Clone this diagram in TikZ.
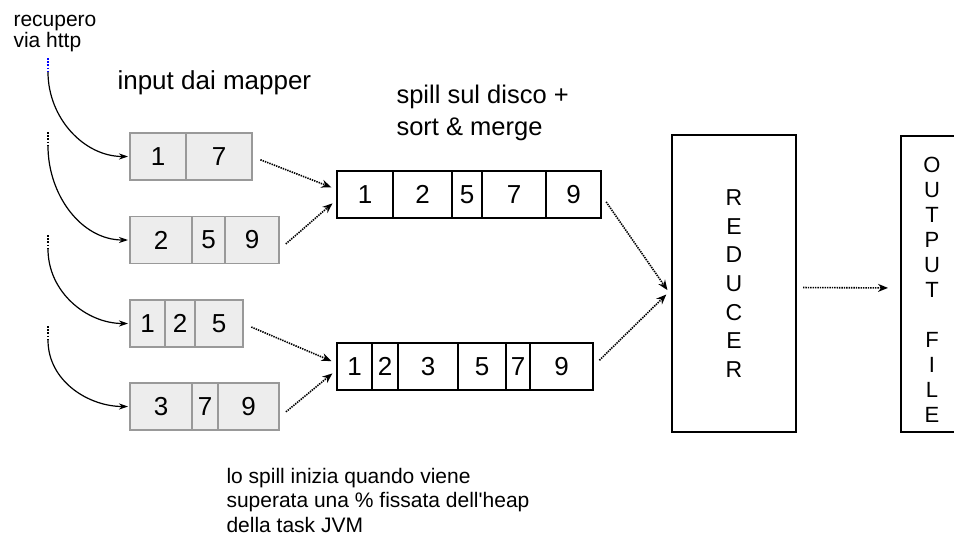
\documentclass[tikz,border=0pt]{standalone}
\usepackage{fontspec}
\setmainfont{Liberation Sans}
\usetikzlibrary{arrows.meta, positioning}
\tikzstyle{feed} = [line width=1.2pt, -{Stealth[length=9pt, width=6pt]}, shorten >=2pt]
\tikzstyle{spill} = [line width=1.6pt, dash pattern=on 1.4pt off 1pt, -{Stealth[length=10pt, width=8pt]}]
\tikzstyle{dots} = [line width=1.6pt, dash pattern=on 1.6pt off 1.6pt]
\tikzset{
  incell/.style  = {
    draw           = black!40,
    fill           = black!7,
    line width     = 1.6pt,
    minimum height = 47pt,
    inner sep      = 0pt,
    outer sep      = 0pt,
    anchor         = west,
    font           = \fontsize{26}{30}\selectfont
  },
  outcell/.style = {incell, draw = black, fill = white},
  stage/.style   = {draw, line width = 1.3pt, align = center, inner sep = 0pt, outer sep = 0pt}
}

\begin{document}
\begin{tikzpicture}[x=1pt, y=-1pt]
\useasboundingbox (0,0) rectangle (954,538);

% Labels (anchored on the baseline of the last line)
\node[anchor=base west, align=left, font=\fontsize{21}{21}\selectfont] (http) at (10,47) {recupero\\via http};
\node[anchor=base west, font=\fontsize{26}{30}\selectfont] (mapper) at (114,89) {input dai mapper};
\node[anchor=base west, align=left, font=\fontsize{25.5}{32}\selectfont] (sort) at (393,135) {spill sul disco +\\sort \& merge};
\node[anchor=base west, align=left, font=\fontsize{21}{24.5}\selectfont] (heap) at (223,532)
  {lo spill inizia quando viene\\superata una \% fissata dell\textquotesingle heap\\della task JVM};

% Mapper outputs
\foreach \x/\w/\v [count=\i] in {130/56/1, 186/66/7}
  \node[incell, minimum width=\w] (m1-\i) at (\x,156.5) {\v};
\foreach \x/\w/\v [count=\i] in {130/62/2, 192/33/5, 225/54/9}
  \node[incell, minimum width=\w] (m2-\i) at (\x,240) {\v};
\foreach \x/\w/\v [count=\i] in {130/35/1, 165/30/2, 195/48/5}
  \node[incell, minimum width=\w] (m3-\i) at (\x,323.5) {\v};
\foreach \x/\w/\v [count=\i] in {130/62/3, 192/26/7, 218/61/9}
  \node[incell, minimum width=\w] (m4-\i) at (\x,406.5) {\v};

% Spilled and merged runs
\foreach \x/\w/\v [count=\i] in {337/56/1, 393/59/2, 452/30/5, 482/64/7, 546/55/9}
  \node[outcell, minimum width=\w] (s1-\i) at (\x,194.5) {\v};
\foreach \x/\w/\v [count=\i] in {337/35/1, 372/26/2, 398/60/3, 458/48/5, 506/24/7, 530/63/9}
  \node[outcell, minimum width=\w] (s2-\i) at (\x,366.5) {\v};

% Reducer and output
\node[stage, minimum width=124, minimum height=297, font=\fontsize{23}{28.7}\selectfont] (reducer) at (734,283.5)
  {R\\E\\D\\U\\C\\E\\R};
\node[stage, minimum width=62, minimum height=296] (output) at (932,284) {};
\node[align=center, font=\fontsize{22}{25}\selectfont] (outname) at (932,290)
  {O\\U\\T\\P\\U\\T\\~\\F\\I\\L\\E};

% http fetches
\coordinate (h1) at (48,72);
\coordinate (h2) at (48,146);
\coordinate (h3) at (48,249);
\coordinate (h4) at (48,340);
\draw[dots, blue] (48,58) -- (h1);
\draw[dots] (48,132) -- (h2);
\draw[dots] (48,235) -- (h3);
\draw[dots] (48,326) -- (h4);
\foreach \i in {1,...,4}
  \draw[feed] (h\i) to[out=-90, in=180] (m\i-1.west);

% Spill to disk
\draw[spill, shorten <=9pt, shorten >=6pt] (m1-2.east) -- (s1-1.170);
\draw[spill, shorten <=9pt, shorten >=6pt] (m2-3.-20) -- (s1-1.190);
\draw[spill, shorten <=9pt, shorten >=6pt] (m3-3.east) -- (s2-1.170);
\draw[spill, shorten <=9pt, shorten >=6pt] (m4-3.-20) -- (s2-1.190);

% Merge into the reducer
\draw[spill, shorten <=9pt, shorten >=8pt] (s1-5.east) -- (reducer.192);
\draw[spill, shorten <=9pt, shorten >=8pt] (s2-6.east) -- (reducer.185);
\draw[spill, shorten <=7pt, shorten >=13pt] ([yshift=-4pt]reducer.east) -- ([yshift=-4pt]output.west);
\end{tikzpicture}
\end{document}
